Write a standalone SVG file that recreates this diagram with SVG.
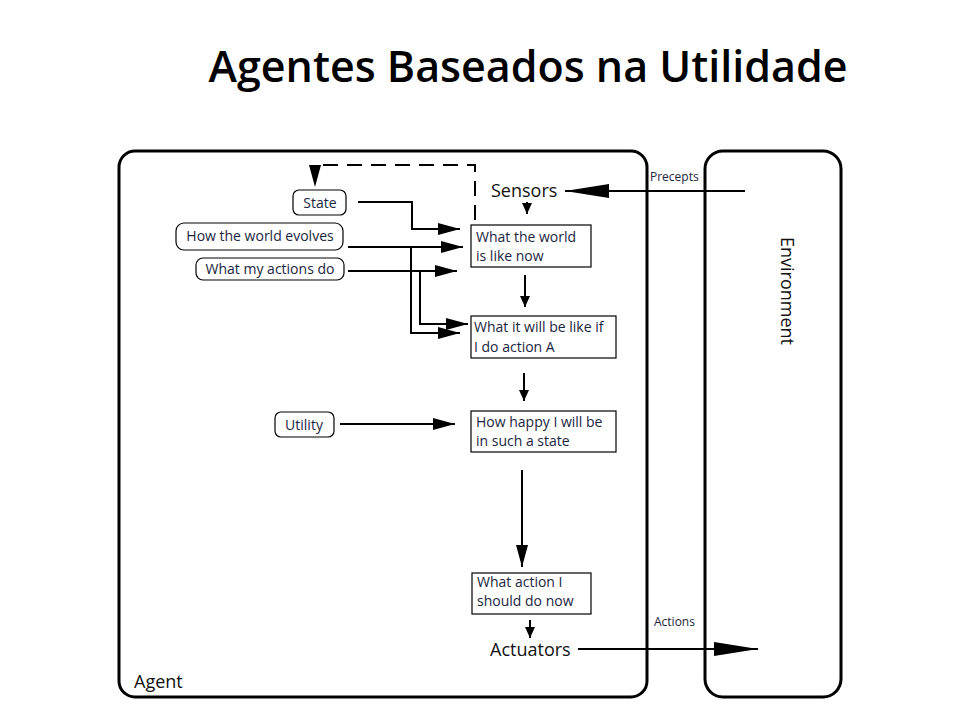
<svg xmlns="http://www.w3.org/2000/svg" width="960" height="720" viewBox="0 0 960 720">
<defs>
<marker id="ah" markerUnits="userSpaceOnUse" markerWidth="24" markerHeight="12" refX="22" refY="6" orient="auto">
<path d="M0,0 L22,6 L0,12 Z" fill="#000"/>
</marker>
<marker id="ahs" markerUnits="userSpaceOnUse" markerWidth="12" markerHeight="12" refX="11" refY="5" orient="auto">
<path d="M0,0 L11,5 L0,10 Z" fill="#000"/>
</marker>
<marker id="ahb" markerUnits="userSpaceOnUse" markerWidth="46" markerHeight="14" refX="44" refY="7" orient="auto">
<path d="M0,0 L44,7 L0,14 Z" fill="#000"/>
</marker>
</defs>
<style>
.frame{fill:none;stroke:#000;stroke-width:3}
.box{fill:#fff;stroke:#000;stroke-width:1.2}
.rbox{fill:#fff;stroke:#000;stroke-width:1.2}
.t{font-family:"Open Sans","Noto Sans",sans-serif;font-size:14px;fill:#1a2540}
.tc{text-anchor:middle}
.big{font-family:"Open Sans","Noto Sans",sans-serif;font-size:18px;fill:#111}
.sm{font-family:"Open Sans","Noto Sans",sans-serif;font-size:12px;fill:#1a2540}
.ln{fill:none;stroke:#000;stroke-width:2}
</style>
<rect width="960" height="720" fill="#fff"/>
<text x="528" y="82" text-anchor="middle" font-family="Open Sans, Noto Sans, sans-serif" font-size="43" font-weight="600" fill="#000">Agentes Baseados na Utilidade</text>

<g id="agent">
<rect class="frame" x="119" y="151" width="528" height="546" rx="16"/>
<text class="big" x="134" y="688">Agent</text>
</g>
<g id="environment">
<rect class="frame" x="705" y="151" width="136" height="546" rx="18"/>
<text class="big" x="0" y="0" text-anchor="middle" transform="translate(781,291) rotate(90)">Environment</text>
</g>

<g id="sensors"><text class="big" x="491" y="197">Sensors</text></g>
<g id="actuators"><text class="big" x="490" y="656">Actuators</text></g>

<g id="state"><rect class="rbox" x="293" y="190" width="53" height="25" rx="6"/><text class="t tc" x="320" y="208">State</text></g>
<g id="evolves"><rect class="rbox" x="176" y="223" width="167" height="27" rx="8"/><text class="t tc" x="260" y="241">How the world evolves</text></g>
<g id="actionsdo"><rect class="rbox" x="196" y="258" width="148" height="22" rx="7"/><text class="t tc" x="270" y="274">What my actions do</text></g>
<g id="utility"><rect class="rbox" x="275" y="412" width="59" height="25" rx="6"/><text class="t tc" x="304" y="430">Utility</text></g>

<g id="worldnow"><rect class="box" x="471" y="225" width="120" height="42"/><text class="t" x="476" y="242">What the world</text><text class="t" x="476" y="261">is like now</text></g>
<g id="willbe"><rect class="box" x="471" y="316" width="145" height="42"/><text class="t" x="474" y="332">What it will be like if</text><text class="t" x="474" y="352">I do action A</text></g>
<g id="happy"><rect class="box" x="471" y="411" width="145" height="41"/><text class="t" x="476" y="427">How happy I will be</text><text class="t" x="476" y="446">in such a state</text></g>
<g id="whataction"><rect class="box" x="472" y="573" width="119" height="41"/><text class="t" x="477" y="587">What action I</text><text class="t" x="477" y="606">should do now</text></g>

<g id="connectors">
<path class="ln" d="M745,191 H565" marker-end="url(#ahb)"/>
<text class="sm" x="650" y="181">Precepts</text>
<path class="ln" d="M578,649 H758" marker-end="url(#ahb)"/>
<text class="sm" x="654" y="626">Actions</text>
<path class="ln" d="M475,220 V165 H315 V187" stroke-dasharray="15 9" marker-end="url(#ah)"/>
<path class="ln" d="M527,202 V214" marker-end="url(#ahs)"/>
<path class="ln" d="M358,202 H412 V229 H460" marker-end="url(#ah)"/>
<path class="ln" d="M348,247 H463" marker-end="url(#ah)"/>
<path class="ln" d="M411,247 V333 H460" marker-end="url(#ah)"/>
<path class="ln" d="M348,271 H457" marker-end="url(#ah)"/>
<path class="ln" d="M420,271 V324 H468" marker-end="url(#ah)"/>
<path class="ln" d="M525,275 V307" marker-end="url(#ahs)"/>
<path class="ln" d="M524,373 V401" marker-end="url(#ahs)"/>
<path class="ln" d="M340,424 H455" marker-end="url(#ah)"/>
<path class="ln" d="M522,470 V567" marker-end="url(#ah)"/>
<path class="ln" d="M530,620 V638" marker-end="url(#ahs)"/>
</g>
</svg>
